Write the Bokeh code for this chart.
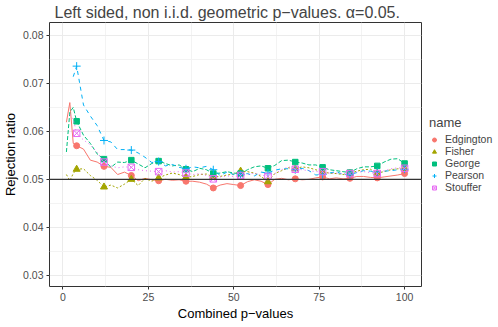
from bokeh.plotting import figure
from bokeh.models import Span, Legend, LegendItem, FixedTicker, Range1d, PrintfTickFormatter
from bokeh.embed import file_html
from bokeh.resources import INLINE

nan = float("nan")

# number of combined p-values
x_vals = [1, 2, 3, 4,
          6, 8, 10, 12, 14, 16, 18, 20,
          22, 24, 26, 28, 30, 32, 34, 36,
          38, 40, 42, 44, 46, 48, 50, 52,
          54, 56, 58, 60, 62, 64, 66, 68,
          70, 72, 74, 76, 78, 80, 82, 84,
          86, 88, 90, 92, 94, 96, 98, 100]

# points marked with a symbol
marker_x = [4, 12, 20, 28, 36, 44, 52, 60, 68, 76, 84, 92, 100]

edgington = [0.0619, 0.0660, 0.0575, 0.0570,
             0.0563, 0.0540, 0.0536, 0.0527, 0.0525, 0.0510, 0.0515, 0.0508,
             0.0497, 0.0502, 0.0499, 0.0497, 0.0500, 0.0498, 0.0499, 0.0496,
             0.0496, 0.0494, 0.0490, 0.0482, 0.0488, 0.0491, 0.0489, 0.0487,
             0.0495, 0.0499, 0.0496, 0.0489, 0.0500, 0.0502, 0.0499, 0.0501,
             0.0499, 0.0500, 0.0503, 0.0505, 0.0501, 0.0503, 0.0501, 0.0502,
             0.0506, 0.0506, 0.0504, 0.0503, 0.0505, 0.0507, 0.0509, 0.0512]

fisher = [0.0510, 0.0497, 0.0512, 0.0521,
          0.0522, 0.0508, 0.0498, 0.0484, 0.0488, 0.0482, 0.0490, 0.0500,
          0.0487, 0.0502, 0.0496, 0.0503, 0.0509, 0.0513, 0.0510, 0.0504,
          0.0506, 0.0510, 0.0511, 0.0505, 0.0506, 0.0509, 0.0511, 0.0517,
          0.0516, 0.0513, 0.0506, 0.0495, 0.0512, 0.0518, 0.0524, 0.0522,
          0.0526, 0.0524, 0.0520, 0.0515, 0.0513, 0.0512, 0.0510, 0.0512,
          0.0517, 0.0520, 0.0521, 0.0513, 0.0516, 0.0520, 0.0522, 0.0522]

george = [0.0557, 0.0640, 0.0650, 0.0621,
          0.0592, 0.0575, 0.0553, 0.0542, 0.0525, 0.0536, 0.0535, 0.0540,
          0.0532, 0.0524, 0.0533, 0.0538, 0.0533, 0.0528, 0.0530, 0.0521,
          0.0516, 0.0523, 0.0520, 0.0512, 0.0513, 0.0516, 0.0513, 0.0512,
          0.0520, 0.0526, 0.0528, 0.0523, 0.0529, 0.0539, 0.0540, 0.0536,
          0.0534, 0.0530, 0.0530, 0.0525, 0.0520, 0.0518, 0.0516, 0.0514,
          0.0522, 0.0526, 0.0526, 0.0528, 0.0536, 0.0542, 0.0543, 0.0533]

pearson = [nan, nan, 0.0714, 0.0736,
           0.0655, 0.0632, 0.0612, 0.0581, 0.0578, 0.0562, 0.0562, 0.0561,
           0.0555, 0.0546, 0.0535, 0.0537, 0.0528, 0.0531, 0.0525, 0.0522,
           0.0526, 0.0524, 0.0527, 0.0520, 0.0508, 0.0515, 0.0510, 0.0510,
           0.0512, 0.0507, 0.0515, 0.0513, 0.0519, 0.0522, 0.0522, 0.0520,
           0.0523, 0.0518, 0.0509, 0.0510, 0.0513, 0.0516, 0.0510, 0.0510,
           0.0514, 0.0518, 0.0517, 0.0515, 0.0517, 0.0518, 0.0520, 0.0521]

stouffer = [nan, 0.0635, 0.0625, 0.0596,
            0.0582, 0.0572, 0.0556, 0.0536, 0.0528, 0.0524, 0.0526, 0.0525,
            0.0520, 0.0518, 0.0517, 0.0516, 0.0518, 0.0515, 0.0516, 0.0513,
            0.0510, 0.0512, 0.0508, 0.0501, 0.0505, 0.0507, 0.0506, 0.0508,
            0.0510, 0.0513, 0.0509, 0.0506, 0.0512, 0.0520, 0.0526, 0.0521,
            0.0520, 0.0518, 0.0516, 0.0516, 0.0513, 0.0513, 0.0512, 0.0512,
            0.0515, 0.0516, 0.0514, 0.0512, 0.0518, 0.0522, 0.0524, 0.0523]

names = ["Edgington", "Fisher", "George", "Pearson", "Stouffer"]
series = [edgington, fisher, george, pearson, stouffer]
colors = ["#F8766D", "#A3A500", "#00BF7D", "#00B0F6", "#E76BF3"]
dashes = ["solid", "2 2", "4 2", "4 4", "1 3"]
markers = ["circle", "triangle", "square", "cross", "square_x"]
msizes = [6, 7, 5.5, 8, 6.5]

x_ticks = [0, 25, 50, 75, 100]
x_minor = [12.5, 37.5, 62.5, 87.5]
y_ticks = [0.03, 0.04, 0.05, 0.06, 0.07, 0.08]
y_minor = [0.035, 0.045, 0.055, 0.065, 0.075]
alpha_level = 0.05

FONT = "Liberation Sans"

p = figure(frame_width=372, frame_height=264, output_backend="svg",
           toolbar_location=None,
           x_range=Range1d(-3.95, 104.95), y_range=Range1d(0.02765, 0.0827),
           min_border_left=4, min_border_right=4, min_border_top=4,
           min_border_bottom=4)

p.title.text = "Left sided, non i.i.d. geometric p\u2212values. \u03b1=0.05."
p.title.text_font = FONT
p.title.text_font_size = "16px"
p.title.text_font_style = "normal"
p.title.align = "left"
p.title.offset = 5
p.title.standoff = 3

p.background_fill_color = "white"
p.border_fill_color = "white"
p.outline_line_color = "#333333"
p.outline_line_width = 1

p.xaxis.ticker = FixedTicker(ticks=x_ticks, minor_ticks=x_minor)
p.yaxis.ticker = FixedTicker(ticks=y_ticks, minor_ticks=y_minor)
p.yaxis.formatter = PrintfTickFormatter(format="%.2f")
p.xaxis.axis_label = "Combined p\u2212values"
p.yaxis.axis_label = "Rejection ratio"
for ax in (p.xaxis, p.yaxis):
    ax.axis_line_color = None
    ax.minor_tick_line_color = None
    ax.major_tick_line_color = "#333333"
    ax.major_tick_out = 3
    ax.major_tick_in = 0
    ax.major_label_text_font = FONT
    ax.major_label_text_font_size = "10.5px"
    ax.major_label_text_color = "#4D4D4D"
    ax.major_label_standoff = 2
    ax.axis_label_text_font = FONT
    ax.axis_label_text_font_size = "13px"
    ax.axis_label_text_font_style = "normal"
    ax.axis_label_text_color = "black"
    ax.axis_label_standoff = 2

for g in (p.xgrid, p.ygrid):
    g.grid_line_color = "#EBEBEB"
    g.grid_line_width = 1
    g.minor_grid_line_color = "#F3F3F3"
    g.minor_grid_line_width = 1

p.add_layout(Span(location=alpha_level, dimension="width",
                  line_color="#333333", line_width=1.2))

items = []
for name, ys, c, d, m, s in zip(names, series, colors, dashes, markers, msizes):
    p.line(x_vals, ys, line_color=c, line_width=1, line_dash=d)
    mx = [xv for xv in x_vals if xv in marker_x]
    my = [yv for xv, yv in zip(x_vals, ys) if xv in marker_x]
    if m == "square_x":
        r = p.scatter(mx, my, marker=m, size=s, line_color=c, fill_color=None,
                      line_width=1)
    elif m == "cross":
        r = p.scatter(mx, my, marker=m, size=s, line_color=c, line_width=1)
    else:
        r = p.scatter(mx, my, marker=m, size=s, line_color=c, fill_color=c)
    items.append(LegendItem(label=name, renderers=[r]))

legend = Legend(items=items, title="name", location="left")
legend.title_text_font = FONT
legend.title_text_font_size = "13px"
legend.title_text_font_style = "normal"
legend.title_standoff = 3
legend.label_text_font = FONT
legend.label_text_font_size = "10.5px"
legend.border_line_color = None
legend.background_fill_alpha = 0
legend.glyph_width = 10
legend.glyph_height = 11
legend.label_height = 11
legend.spacing = 0
legend.padding = 0
legend.margin = 8
legend.label_standoff = 6
p.add_layout(legend, "right")

open("out.html", "w").write(file_html(p, INLINE))
